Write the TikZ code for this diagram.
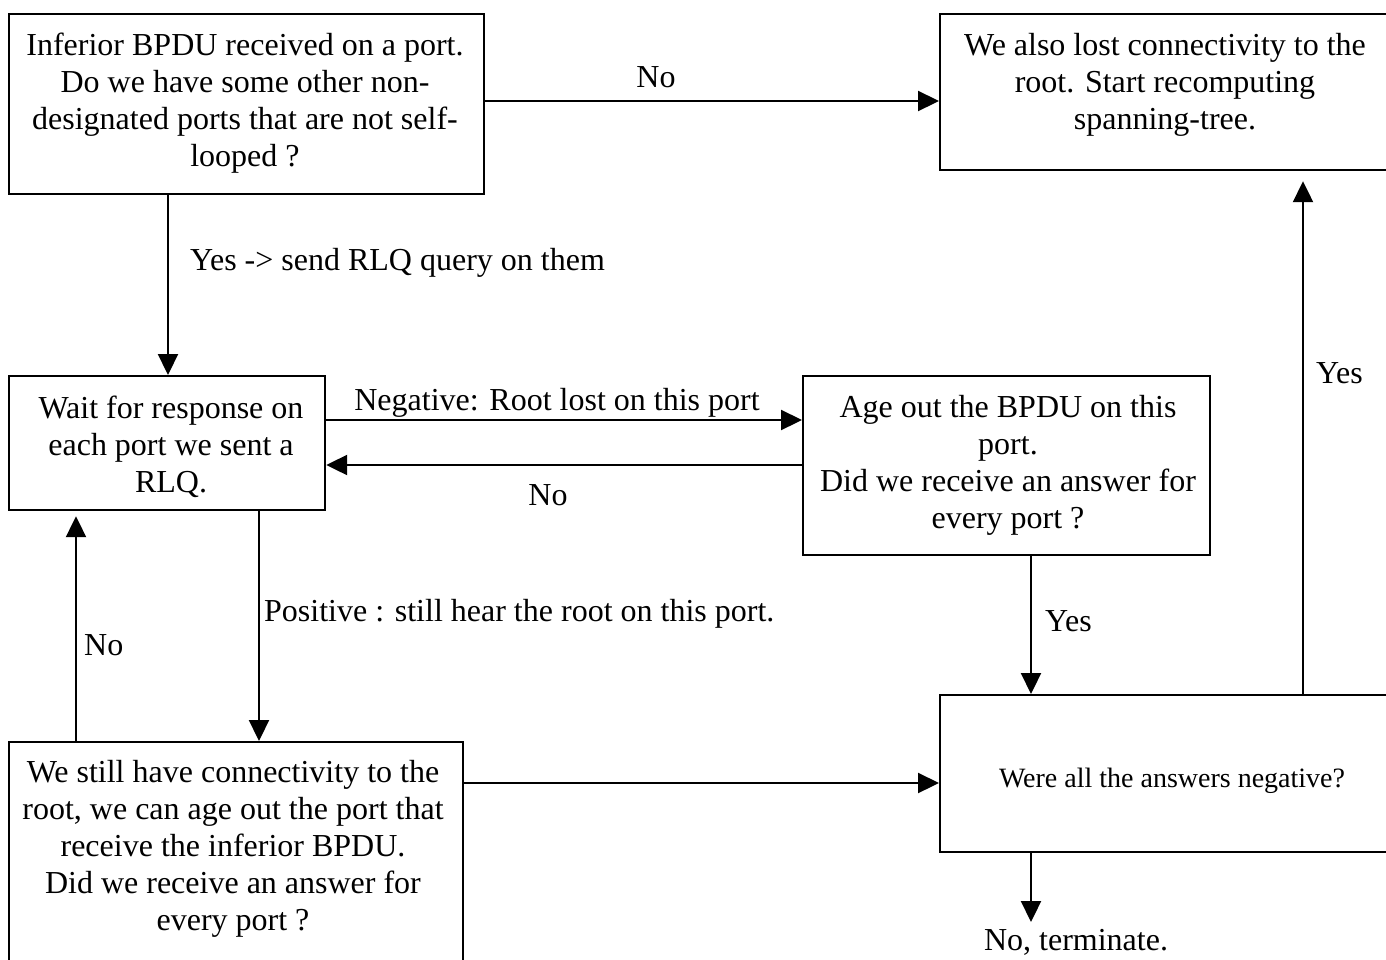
\documentclass[tikz,border=0pt]{standalone}
\usepackage{fontspec}
\setmainfont{Liberation Serif}
\usetikzlibrary{arrows.meta}
\begin{document}
\begin{tikzpicture}[x=1pt,y=-1pt,
  box/.style={draw, line width=2.2pt, rectangle, anchor=north west, inner sep=0pt},
  txt/.style={align=center, inner sep=0pt, anchor=base, font=\fontsize{32}{37}\selectfont},
  lbl/.style={inner sep=0pt, font=\fontsize{32}{37}\selectfont},
  arr/.style={line width=2.2pt, -{Triangle[length=21pt,width=20pt]}}]
\useasboundingbox (0,0) rectangle (1386,959);
\clip (0,0) rectangle (1386,959);
\fill[white] (0,0) rectangle (1386,959);
% boxes
\node[box, minimum width=475, minimum height=180] (b1) at (8,13) {};
\node[box, minimum width=452, minimum height=156] (b2) at (939,13) {};
\node[box, minimum width=316, minimum height=134] (b3) at (8,375) {};
\node[box, minimum width=407, minimum height=179] (b4) at (802,375) {};
\node[box, minimum width=454, minimum height=240] (b5) at (8,741) {};
\node[box, minimum width=466, minimum height=157] (b6) at (939,694) {};
% box texts (base anchor = baseline of last line)
\node[txt] (t1) at (245,166) {Inferior BPDU received on a port.\\Do we have some other non-\\designated ports that are not self-\\looped ?};
\node[txt] (t2) at (1165,129) {We also lost connectivity to the\\root. Start recomputing\\spanning-tree.};
\node[txt] (t3) at (171,492) {Wait for response on\\each port we sent a\\RLQ.};
\node[txt] (t4) at (1008,528) {Age out the BPDU on this\\port.\\Did we receive an answer for\\every port ?};
\node[txt] (t5) at (233,930) {We still have connectivity to the\\root, we can age out the port that\\receive the inferior BPDU.\\Did we receive an answer for\\every port ?};
\node[txt, font=\fontsize{28}{34}\selectfont] (t6) at (1172,787) {Were all the answers negative?};
% connectors
\draw[arr] (b1.east |- 0,101) -- (b2.west |- 0,101);
\draw[arr] (b1.south -| 168,0) -- (b3.north -| 168,0);
\draw[arr] (b3.east |- 0,420) -- (b4.west |- 0,420);
\draw[arr] (b4.west |- 0,465) -- (b3.east |- 0,465);
\draw[arr] (b3.south -| 259,0) -- (b5.north -| 259,0);
\draw[arr] (b5.north -| 76,0) -- ([yshift=-5pt]b3.south -| 76,0);
\draw[arr] (b4.south -| 1031,0) -- (b6.north -| 1031,0);
\draw[arr] (b6.north -| 1303,0) -- ([yshift=-10pt]b2.south -| 1303,0);
\draw[arr] (b5.east |- 0,783) -- (b6.west |- 0,783);
\node[lbl, anchor=base] (lt) at (1076,950) {No, terminate.};
\draw[arr] (b6.south -| 1031,0) -- (1031,922) coordinate (tend);
% labels
\node[lbl, anchor=base] (l1) at (656,87) {No};
\node[lbl, anchor=base west] (l2) at (190,270) {Yes -> send RLQ query on them};
\node[lbl, anchor=base] (l3) at (557,410) {Negative: Root lost on this port};
\node[lbl, anchor=base] (l4) at (548,505) {No};
\node[lbl, anchor=base west] (l5) at (264,621) {Positive : still hear the root on this port.};
\node[lbl, anchor=base west] (l6) at (84,655) {No};
\node[lbl, anchor=base west] (l7) at (1045,631) {Yes};
\node[lbl, anchor=base west] (l8) at (1316,383) {Yes};
\end{tikzpicture}
\end{document}
